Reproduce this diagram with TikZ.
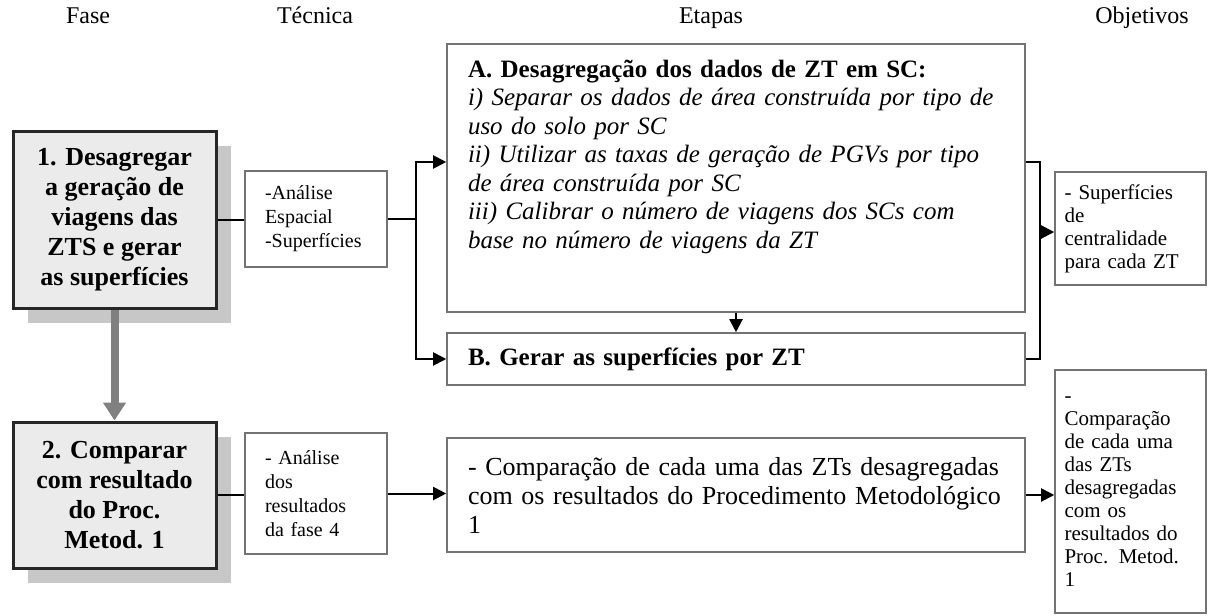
\documentclass[tikz,border=0pt]{standalone}
\usepackage{fontspec}
\setmainfont{Liberation Serif}
\usetikzlibrary{arrows.meta,positioning,shadows,calc}

\begin{document}
\begin{tikzpicture}[
  x=0.5pt, y=-0.5pt,
  head/.style={anchor=base, font=\fontsize{12}{14}\selectfont},
  phase/.style={draw=black!85, line width=1.5pt, fill=black!8, align=center,
    minimum width=101.5pt, font=\fontsize{13}{15}\selectfont\bfseries,
    drop shadow={shadow xshift=7.5pt, shadow yshift=-7.5pt, fill=black!22, opacity=1}},
  tech/.style={draw=black!55, line width=0.8pt, fill=white, align=left,
    text width=51pt, inner xsep=10pt, font=\fontsize{10}{12}\selectfont},
  stage/.style={draw=black!55, line width=0.8pt, fill=white, align=left,
    text width=268pt, inner xsep=10.5pt, font=\fontsize{13}{14.5}\selectfont},
  goal/.style={draw=black!55, line width=0.8pt, fill=white, align=left,
    text width=66pt, inner xsep=4.75pt, font=\fontsize{10.5}{11.5}\selectfont},
  link/.style={black, line width=1pt},
  arr/.style={link, -{Triangle[length=6.5pt,width=6.5pt]}},
  flow/.style={black!50, line width=4pt, -{Triangle[length=9pt,width=11pt]}}
]
\path[use as bounding box, fill=white] (0,0) rectangle (1208,615);
% column titles
\node[head] (hFase) at (88,24) {Fase};
\node[head] (hTec) at (315,24) {Técnica};
\node[head] (hEtapa) at (711,24) {Etapas};
\node[head] (hObj) at (1142,24) {Objetivos};
% phases
\node[phase, minimum height=88.5pt] (fase1) at (114.5,219.5)
  {1. Desagregar\\a geração de\\viagens das\\ZTS e gerar\\as superfícies};
\node[phase, minimum height=73pt] (fase2) at (114.5,495)
  {2. Comparar\\com resultado\\do Proc.\\Metod. 1};
% techniques
\node[tech, minimum height=48pt] (tec1) at (316,219) {-Análise\\Espacial\\-Superfícies};
\node[tech, minimum height=60.5pt] (tec2) at (316,493.5) {- Análise\\dos\\resultados\\da fase 4};
% stages
\node[stage, minimum height=134pt] (etA) at (736,178) {};
\node[stage, draw=none, fill=none, inner sep=0pt, anchor=north west, font=\fontsize{12.5}{14.25}\selectfont]
  (etAtxt) at ([shift={(10.5pt,-8pt)}]etA.north west)
  {\textbf{A. Desagregação dos dados de ZT em SC:}\\
   \textit{i) Separar os dados de área construída por tipo de}\\
   \textit{uso do solo por SC}\\
   \textit{ii) Utilizar as taxas de geração de PGVs por tipo}\\
   \textit{de área construída por SC}\\
   \textit{iii) Calibrar o número de viagens dos SCs com}\\
   \textit{base no número de viagens da ZT}};
\node[stage, minimum height=26pt, font=\fontsize{12.5}{14}\selectfont\bfseries] (etB) at (736,359)
  {B. Gerar as superfícies por ZT};
\node[stage, minimum height=57pt] (etC) at (736,495)
  {- Comparação de cada uma das ZTs desagregadas\\com os resultados do Procedimento Metodológico\\1};
% goals
\node[goal, minimum height=56.5pt] (obj1) at (1130.5,228.5)
  {- Superfícies\\de\\centralidade\\para cada ZT};
\node[goal, minimum height=121.5pt] (obj2) at (1130.5,491.5)
  {-\\Comparação\\de cada uma\\das ZTs\\desagregadas\\com os\\resultados do\\Proc. Metod.\\1};
% connectors, phase 1
\coordinate (split) at (416,219);
\coordinate (splitA) at (416,162);
\coordinate (splitB) at (416,359);
\coordinate (joinA) at (1040,162);
\coordinate (joinB) at (1040,359);
\coordinate (join) at (1040,232);
\draw[link] (fase1.east) -- (fase1.east -| tec1.west);
\draw[link] (tec1.east) -- (split);
\draw[arr] (split) -- (splitA) -- (splitA -| etA.west);
\draw[arr] (split) -- (splitB) -- (etB.west);
\draw[arr] (etA.south) -- (etB.north);
\draw[link] (joinA -| etA.east) -- (joinA) -- (joinB) -- (etB.east);
\draw[arr] (join) -- (join -| obj1.west);
\draw[flow] (fase1.south) -- (fase2.north);
% connectors, phase 2
\draw[link] (fase2.east) -- (fase2.east -| tec2.west);
\draw[arr] (tec2.east) -- (tec2.east -| etC.west);
\draw[arr] (etC.east) -- (etC.east -| obj2.west);
\end{tikzpicture}
\end{document}
